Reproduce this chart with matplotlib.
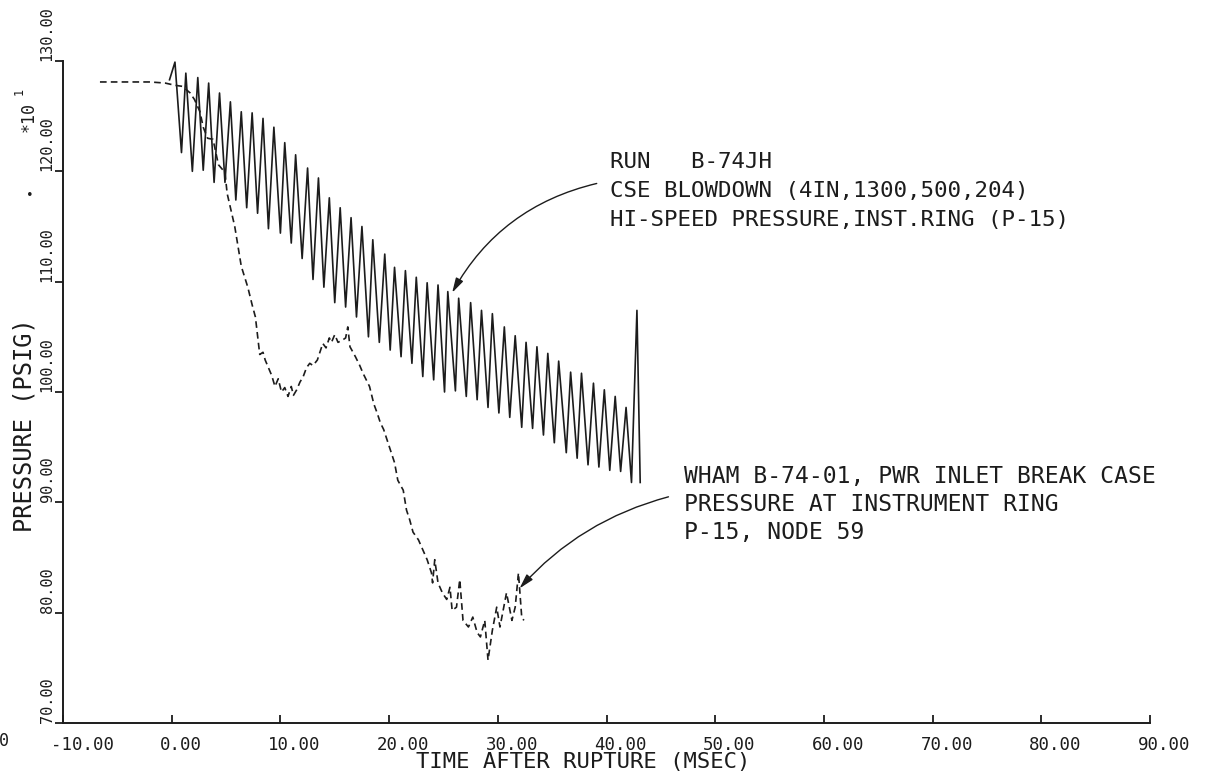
#!/usr/bin/env python3
"""CSE blowdown run B-74JH: measured vs WHAM pressure at the instrument ring."""

import matplotlib

matplotlib.use("Agg")
import matplotlib.pyplot as plt
from matplotlib.transforms import ScaledTranslation

W, H = 1227, 778
FONT = "DejaVu Sans Mono"
INK = "#1c1c1c"

# measured hi-speed pressure (P-15), psig x10: crest and trough of each cycle
start_t, start_p = -0.2, 128.3
peak_t = [0.3, 1.3, 2.4, 3.4, 4.4, 5.4, 6.4, 7.4, 8.4, 9.4,
          10.4, 11.4, 12.5, 13.5, 14.5, 15.5, 16.5, 17.5, 18.5, 19.6,
          20.5, 21.5, 22.5, 23.5, 24.5, 25.4, 26.4, 27.5, 28.5, 29.5,
          30.6, 31.6, 32.6, 33.6, 34.6, 35.6, 36.7, 37.7, 38.8, 39.8,
          40.8, 41.8]
peak_p = [129.9, 128.9, 128.5, 128.0, 127.1, 126.3, 125.4, 125.3, 124.8, 124.0,
          122.6, 121.5, 120.3, 119.4, 117.6, 116.7, 115.8, 115.0, 113.8, 112.5,
          111.3, 111.0, 110.4, 109.9, 109.7, 109.1, 108.5, 108.1, 107.4, 107.1,
          105.9, 105.1, 104.5, 104.1, 103.5, 102.8, 101.8, 101.7, 100.8, 100.2,
          99.6, 98.6]
trough_t = [0.9, 1.9, 2.9, 3.9, 4.9, 5.9, 6.9, 7.9, 8.9, 10.0,
            11.0, 12.0, 13.0, 14.0, 15.0, 16.0, 17.0, 18.1, 19.1, 20.1,
            21.1, 22.1, 23.1, 24.1, 25.1, 26.1, 27.1, 28.1, 29.1, 30.1,
            31.1, 32.2, 33.2, 34.2, 35.2, 36.3, 37.3, 38.3, 39.3, 40.3,
            41.3, 42.3]
trough_p = [121.7, 120.0, 120.1, 119.0, 119.0, 117.4, 116.7, 116.2, 114.8, 114.4,
            113.5, 112.1, 110.2, 109.5, 108.1, 107.7, 106.8, 105.0, 104.5, 103.8,
            103.2, 102.6, 101.4, 101.1, 100.0, 100.1, 99.6, 99.3, 98.6, 98.1,
            97.7, 96.8, 96.7, 96.1, 95.4, 94.5, 94.0, 93.4, 93.2, 92.9,
            92.8, 91.8]
spike_t = [42.8, 43.1]
spike_p = [107.4, 91.8]

# WHAM B-74-01 calculation, node 59
wham_t = [-6.6, -4.0, -2.0, -0.6, 0.3, 1.0, 1.7, 2.1, 2.6, 2.9,
          3.3, 3.8, 4.3, 4.9, 5.1, 5.8, 6.4, 7.0, 7.4, 7.7,
          8.1, 8.4, 8.6, 8.9, 9.2, 9.5, 9.8, 10.1, 10.4, 10.7,
          11.0, 11.2, 11.5, 11.8, 12.1, 12.4, 12.7, 13.0, 13.4, 13.7,
          13.9, 14.2, 14.5, 14.7, 15.0, 15.3, 15.7, 16.0, 16.2, 16.4,
          16.9, 17.3, 17.6, 18.0, 18.2, 18.6, 18.9, 19.2, 19.5, 19.8,
          20.1, 20.5, 20.8, 21.3, 21.6, 21.9, 22.2, 22.7, 23.1, 23.5,
          23.9, 24.0, 24.2, 24.5, 24.9, 25.3, 25.6, 25.8, 26.2, 26.5,
          26.8, 27.3, 27.7, 28.1, 28.4, 28.8, 29.1, 29.5, 29.9, 30.2,
          30.8, 31.3, 31.6, 31.9, 32.2, 32.4]
wham_p = [128.1, 128.1, 128.1, 128.0, 127.8, 127.7, 127.1, 126.5, 125.4, 124.0,
          123.0, 122.9, 120.6, 119.9, 118.0, 115.0, 111.4, 109.5, 107.9, 106.8,
          103.4, 103.6, 102.9, 102.2, 101.5, 100.5, 101.2, 100.0, 100.4, 99.6,
          100.5, 99.7, 100.2, 100.9, 101.4, 102.2, 102.6, 102.4, 102.9, 103.8,
          104.4, 104.0, 104.9, 104.5, 105.2, 104.5, 104.7, 104.9, 105.9, 104.1,
          103.2, 102.4, 101.7, 100.9, 100.5, 98.9, 98.1, 97.2, 96.6, 95.7,
          94.8, 93.6, 92.0, 91.1, 89.3, 88.4, 87.3, 86.6, 85.7, 84.8,
          83.6, 82.7, 84.8, 82.7, 81.8, 81.2, 82.3, 80.2, 80.5, 83.0,
          79.3, 78.7, 79.6, 78.2, 77.8, 79.3, 75.7, 78.4, 80.5, 78.7,
          81.8, 79.3, 80.5, 83.6, 79.6, 79.3]

x_ticks = [-10, 0, 10, 20, 30, 40, 50, 60, 70, 80, 90]
y_ticks = [70, 80, 90, 100, 110, 120, 130]

run_lines = ["RUN   B-74JH",
             "CSE BLOWDOWN (4IN,1300,500,204)",
             "HI-SPEED PRESSURE,INST.RING (P-15)"]
wham_lines = ["WHAM B-74-01, PWR INLET BREAK CASE",
              "PRESSURE AT INSTRUMENT RING",
              "P-15, NODE 59"]


def px(x, y):
    """Pixel position (origin top-left) to figure fraction."""
    return x / W, 1.0 - y / H


def main():
    plt.rcParams["font.family"] = FONT
    fig = plt.figure(figsize=(W / 100, H / 100), dpi=100)
    ax = fig.add_axes([63 / W, 1 - 723 / H, (1150 - 63) / W, (723 - 61) / H])

    meas_t, meas_p = [start_t], [start_p]
    for a, b, c, d in zip(peak_t, peak_p, trough_t, trough_p):
        meas_t += [a, c]
        meas_p += [b, d]
    meas_t += spike_t
    meas_p += spike_p

    ax.plot(meas_t, meas_p, color=INK, lw=1.2)
    ax.plot(wham_t, wham_p, color=INK, lw=1.2, ls=(0, (4, 2.5)))

    ax.set_xlim(-10, 90)
    ax.set_ylim(70, 130)
    for side in ("top", "right"):
        ax.spines[side].set_visible(False)
    for side in ("left", "bottom"):
        ax.spines[side].set_linewidth(1.4)
        ax.spines[side].set_color(INK)

    ax.set_xticks(x_ticks)
    ax.set_xticklabels([])
    ax.tick_params(axis="x", direction="in", length=6, width=1.3, color=INK)
    off = ScaledTranslation(-12 / 100, -13 / 100, fig.dpi_scale_trans)
    for v in x_ticks:
        ax.text(v, 0, f"{v:.2f}", transform=ax.get_xaxis_transform() + off,
                ha="left", va="top", fontsize=12.5, color=INK)

    ax.set_yticks(y_ticks)
    ax.set_yticklabels([f"{v:.2f}" for v in y_ticks], rotation=90,
                       va="bottom", fontsize=11, color=INK)
    ax.tick_params(axis="y", direction="out", length=6, width=1.3, pad=0,
                   color=INK)

    for i, line in enumerate(run_lines):
        fig.text(*px(610, 168 + 29 * i), line, fontsize=16.2, color=INK,
                 ha="left", va="baseline")
    for i, line in enumerate(wham_lines):
        fig.text(*px(684, 483 + 28 * i), line, fontsize=16.6, color=INK,
                 ha="left", va="baseline")

    arrow = dict(arrowstyle="-|>,head_length=0.8,head_width=0.22",
                 color=INK, lw=1.0, shrinkA=0, shrinkB=0, mutation_scale=11)
    ax.annotate("", xy=(25.8, 109.0), xytext=(39.1, 118.9),
                arrowprops=dict(arrow, connectionstyle="arc3,rad=0.22"))
    ax.annotate("", xy=(32.0, 82.2), xytext=(45.7, 90.5),
                arrowprops=dict(arrow, connectionstyle="arc3,rad=0.15"))

    fig.text(*px(583, 768), "TIME AFTER RUPTURE (MSEC)", fontsize=16,
             color=INK, ha="center", va="baseline")
    fig.text(*px(25, 425), "PRESSURE (PSIG)", fontsize=17, color=INK,
             rotation=90, ha="center", va="center")
    fig.text(*px(29, 117), "*10", fontsize=12, color=INK, rotation=90,
             ha="center", va="center")
    fig.text(*px(19, 91), "1", fontsize=8.5, color=INK, rotation=90,
             ha="center", va="center")
    fig.text(*px(30, 195), "\u2022", fontsize=9, color=INK,
             ha="center", va="center")
    fig.text(*px(9, 741), "0", fontsize=12, color=INK, ha="right",
             va="center")

    fig.savefig("out.png", dpi=100, facecolor="white")
    plt.close(fig)


if __name__ == "__main__":
    main()
